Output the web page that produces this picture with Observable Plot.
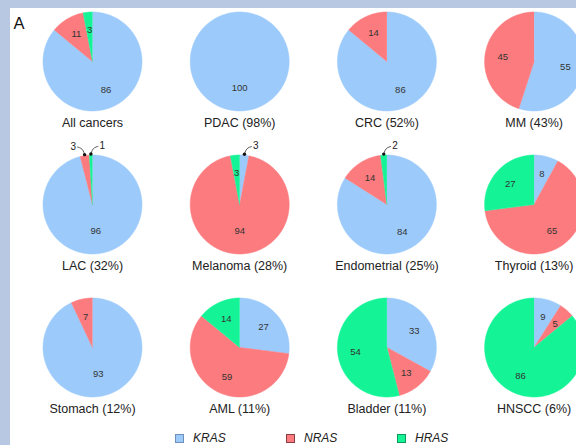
<!DOCTYPE html>
<html>
<head>
<meta charset="utf-8">
<script src="https://cdn.jsdelivr.net/npm/d3@7"></script>
<script src="https://cdn.jsdelivr.net/npm/@observablehq/plot@0.6"></script>
<style>
html, body { margin: 0; padding: 0; width: 576px; height: 445px; overflow: hidden; background: #b8c8e2; font-family: "Liberation Sans", Arial, sans-serif; }
#panel { position: absolute; left: 10px; top: 8px; width: 566px; height: 437px; background: #fff; overflow: hidden; }
#panel svg { display: block; }
#legend { height: 23px; box-sizing: border-box; padding-top: 9px; padding-left: 165px; display: flex; font-style: italic; font-size: 12px; line-height: 14px; color: #222; }
#legend .item { display: flex; align-items: center; width: 111px; }
#legend .sw { width: 7px; height: 7px; border: 1px solid; margin-right: 9px; }
</style>
</head>
<body>
<div id="panel"></div>
<script>
// ---- data ----
const cancers = ["All cancers", "PDAC (98%)", "CRC (52%)", "MM (43%)",
  "LAC (32%)", "Melanoma (28%)", "Endometrial (25%)", "Thyroid (13%)",
  "Stomach (12%)", "AML (11%)", "Bladder (11%)", "HNSCC (6%)"];
const genes = ["KRAS", "NRAS", "HRAS"];
const kras = [86, 100, 86, 55, 96, 3, 84, 8, 93, 27, 33, 9];
const nras = [11, 0, 14, 45, 3, 94, 14, 65, 7, 59, 13, 5];
const hras = [3, 0, 0, 0, 1, 3, 2, 27, 0, 14, 54, 86];
// small slices labelled outside with a leader line
const callouts = [
  {cancer: "LAC (32%)", gene: "NRAS", side: -1},
  {cancer: "LAC (32%)", gene: "HRAS", side: 1},
  {cancer: "Melanoma (28%)", gene: "KRAS", side: 1},
  {cancer: "Endometrial (25%)", gene: "HRAS", side: 1}
];
const colors = ["#9ccbfb", "#fb7b7e", "#14f496"];
const borders = ["#6d8fb8", "#8c3f42", "#0c9a5c"];

// ---- layout ----
const W = 566, H = 414;
const nCols = 4, x0 = 82, sx = 147.2, y0 = 53, sy = 143, R = 49.5;
const labelOffset = 61;

const series = [kras, nras, hras];
const pts = [], inLabels = [], names = [], leaders = [], dots = [], outLabels = [];
cancers.forEach((c, i) => {
  const cx = x0 + (i % nCols) * sx, cy = y0 + Math.floor(i / nCols) * sy;
  names.push({name: c, x: cx, y: cy + labelOffset});
  const arcs = d3.pie().sort(null).value(d => d.v)(genes.map((g, j) => ({g, v: series[j][i]})));
  arcs.forEach(a => {
    if (a.data.v <= 0) return;
    const key = c + "|" + a.data.g;
    const n = Math.max(2, Math.ceil((a.endAngle - a.startAngle) / (Math.PI / 180)));
    pts.push({key, gene: a.data.g, x: cx, y: cy});
    for (let k = 0; k <= n; k++) {
      const t = a.startAngle + (a.endAngle - a.startAngle) * k / n;
      pts.push({key, gene: a.data.g, x: cx + R * Math.sin(t), y: cy - R * Math.cos(t)});
    }
    const mid = (a.startAngle + a.endAngle) / 2;
    const co = callouts.find(o => o.cancer === c && o.gene === a.data.g);
    if (co) {
      const dx = cx + 1.02 * R * Math.sin(mid), dy = cy - 1.02 * R * Math.cos(mid);
      dots.push({x: dx, y: dy});
      [[0, 0], [1.2, -4], [3.5, -6.6], [7, -7.6]].forEach(([u, v]) =>
        leaders.push({key, x: dx + co.side * u, y: dy + v}));
      outLabels.push({text: String(a.data.v), side: co.side, x: dx + co.side * 8.5, y: dy - 8});
    } else {
      const rr = a.data.v >= 90 ? 0.54 : 0.64;
      inLabels.push({text: String(a.data.v), x: cx + rr * R * Math.sin(mid), y: cy - rr * R * Math.cos(mid)});
    }
  });
});

const font = "Liberation Sans, Arial, sans-serif";
const chart = Plot.plot({
  width: W, height: H, margin: 0,
  style: {fontFamily: font, background: "white"},
  x: {domain: [0, W], range: [0, W], axis: null},
  y: {domain: [0, H], range: [0, H], axis: null},
  color: {domain: genes, range: colors},
  marks: [
    Plot.line(pts, {x: "x", y: "y", z: "key", fill: "gene", stroke: "gene", strokeWidth: 0.5, curve: "linear"}),
    Plot.text(inLabels, {x: "x", y: "y", text: "text", fontSize: 9.5, fill: "#333"}),
    Plot.line(leaders, {x: "x", y: "y", z: "key", stroke: "#333", strokeWidth: 0.8, curve: "basis"}),
    Plot.dot(dots, {x: "x", y: "y", r: 1.7, fill: "#111", stroke: "none"}),
    Plot.text(outLabels.filter(d => d.side > 0), {x: "x", y: "y", text: "text", fontSize: 10, fill: "#222", textAnchor: "start"}),
    Plot.text(outLabels.filter(d => d.side < 0), {x: "x", y: "y", text: "text", fontSize: 10, fill: "#222", textAnchor: "end"}),
    Plot.text(names, {x: "x", y: "y", text: "name", fontSize: 12.5, fill: "#222"}),
    Plot.text(["A"], {frameAnchor: "top-left", text: d => d, dx: 3, dy: 9, lineAnchor: "top", fontSize: 16.5, fill: "#111"})
  ]
});
const panel = document.getElementById("panel");
panel.appendChild(chart);

const legend = document.createElement("div");
legend.id = "legend";
genes.forEach((g, j) => {
  const it = document.createElement("div");
  it.className = "item";
  const sw = document.createElement("span");
  sw.className = "sw";
  sw.style.background = colors[j];
  sw.style.borderColor = borders[j];
  const lb = document.createElement("span");
  lb.textContent = g;
  it.appendChild(sw); it.appendChild(lb);
  legend.appendChild(it);
});
panel.appendChild(legend);
</script>
</body>
</html>
